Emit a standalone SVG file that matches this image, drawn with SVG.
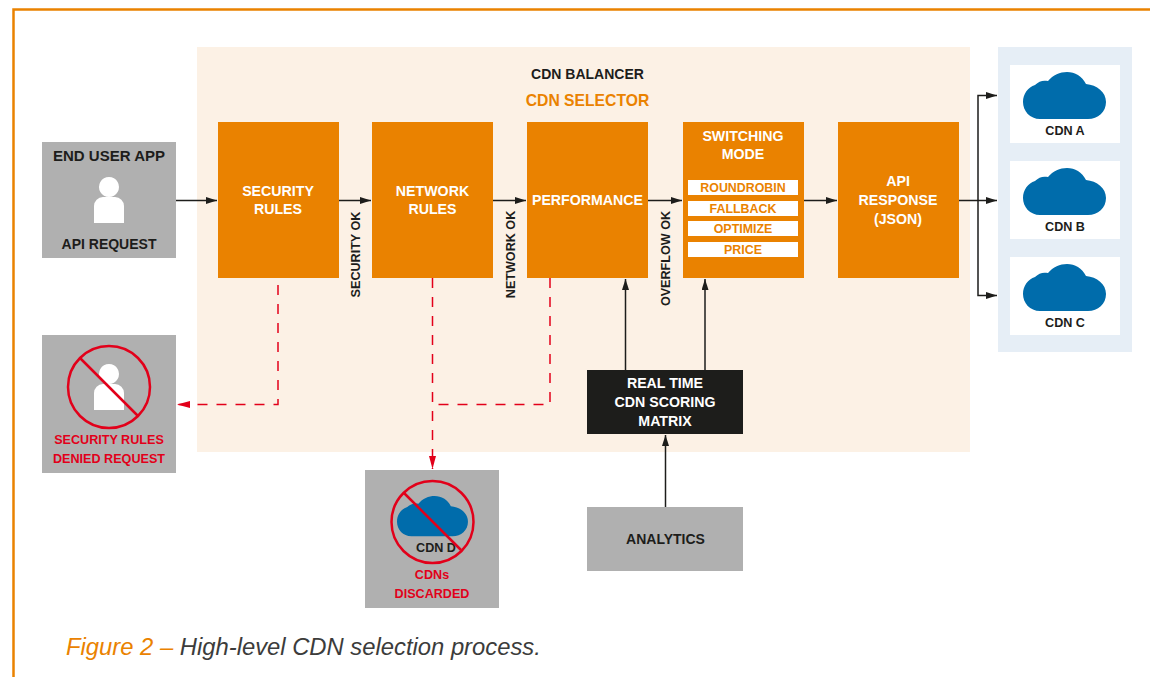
<svg xmlns="http://www.w3.org/2000/svg" width="1150" height="677" viewBox="0 0 1150 677">
<style>
text{font-family:"Liberation Sans",Arial,sans-serif;font-weight:700;text-anchor:middle}
.k{fill:#1d1d1b;font-size:14px}
.s{fill:#1d1d1b;font-size:12.600px}
.w{fill:#fff;font-size:14.200px}
.r{fill:#e2001a;font-size:12.600px}
.o{fill:#ea8200}
.g{fill:#b0b0b0}
.pt{fill:#ea8200;font-size:12.400px}
.l{fill:none;stroke:#1d1d1b;stroke-width:1.5}
.d{fill:none;stroke:#e2001a;stroke-width:1.5;stroke-dasharray:10 9}
.no{fill:none;stroke:#e2001a;stroke-width:2.5}
</style>
<defs>
<marker id="a" markerUnits="userSpaceOnUse" markerWidth="12" markerHeight="8" refX="11" refY="3.5" orient="auto"><path d="M0 0L11 3.5L0 7z" fill="#1d1d1b"/></marker>
<marker id="b" markerUnits="userSpaceOnUse" markerWidth="14" markerHeight="8" refX="13" refY="3.5" orient="auto"><path d="M0 0L13 3.5L0 7z" fill="#e2001a"/></marker>
<path id="cloud" d="M17 47C7 47 0 39 0 30C0 22 5 15 12 13C16 9 20 8 25 9C30 3 37 0 44 0C52 0 59 4 63 12C74 13 83 20 83 30C83 40 75 47 65 47z" fill="#006cab"/>
<path id="user" d="M12 0a10 10 0 1 1-.01 0zM6 20h12a9 9 0 0 1 9 9v17H-3V29a9 9 0 0 1 9-9z" fill="#fff"/>
</defs>
<g id="frame"><path d="M13.500 677V9.500H1150" fill="none" stroke="#ea8200" stroke-width="2.500"/></g>
<g id="balancer"><rect x="197" y="47" width="773" height="405" fill="#fcf1e5"/>
<text class="s" x="587.500" y="79" style="font-size:14px">CDN BALANCER</text>
<text class="pt" x="587.500" y="106" style="font-size:15.700px">CDN SELECTOR</text></g>
<g id="connectors">
<path class="l" d="M176 200.500H217" marker-end="url(#a)"/>
<path class="l" d="M339 200.500H371" marker-end="url(#a)"/>
<path class="l" d="M493 200.500H526" marker-end="url(#a)"/>
<path class="l" d="M648 200.500H682" marker-end="url(#a)"/>
<path class="l" d="M804 200.500H837" marker-end="url(#a)"/>
<path class="l" d="M959 200.500H997" marker-end="url(#a)"/>
<path class="l" d="M978 200.500V95.500H997" marker-end="url(#a)"/>
<path class="l" d="M978 200.500V295.500H997" marker-end="url(#a)"/>
<path class="l" d="M625.500 370V279" marker-end="url(#a)"/>
<path class="l" d="M705 370V279" marker-end="url(#a)"/>
<path class="l" d="M665.500 507V435" marker-end="url(#a)"/>
<path class="d" d="M278 285V404.500H177" marker-end="url(#b)"/>
<path class="d" d="M432.500 278V469" marker-end="url(#b)"/>
<path class="d" d="M550 278V404.500H432.500"/>
</g>
<g id="end-user"><rect class="g" x="42" y="142" width="134" height="116"/>
<text class="k" x="109" y="161" style="font-size:15px">END USER APP</text>
<use href="#user" x="97" y="177"/>
<text class="k" x="109" y="249">API REQUEST</text></g>
<g id="security-rules"><rect class="o" x="218" y="122" width="121" height="156"/>
<text class="w" x="278" y="196">SECURITY</text><text class="w" x="278" y="214">RULES</text></g>
<g id="network-rules"><rect class="o" x="372" y="122" width="121" height="156"/>
<text class="w" x="432.500" y="196">NETWORK</text><text class="w" x="432.500" y="214">RULES</text></g>
<g id="performance"><rect class="o" x="527" y="122" width="121" height="156"/>
<text class="w" x="587.500" y="205">PERFORMANCE</text></g>
<g id="switching-mode"><rect class="o" x="683" y="122" width="121" height="156"/>
<text class="w" x="743" y="141">SWITCHING</text><text class="w" x="743" y="159">MODE</text>
<rect x="688" y="180" width="110" height="15" fill="#fff"/><text class="pt" x="743" y="192">ROUNDROBIN</text>
<rect x="688" y="201" width="110" height="15" fill="#fff"/><text class="pt" x="743" y="213">FALLBACK</text>
<rect x="688" y="221" width="110" height="15" fill="#fff"/><text class="pt" x="743" y="233">OPTIMIZE</text>
<rect x="688" y="242" width="110" height="15" fill="#fff"/><text class="pt" x="743" y="254">PRICE</text></g>
<g id="api-response"><rect class="o" x="838" y="122" width="121" height="156"/>
<text class="w" x="898" y="186">API</text><text class="w" x="898" y="205">RESPONSE</text><text class="w" x="898" y="224">(JSON)</text></g>
<g id="edge-labels">
<text class="s" transform="translate(360 254.500) rotate(-90)">SECURITY OK</text>
<text class="s" transform="translate(515 254.500) rotate(-90)">NETWORK OK</text>
<text class="s" transform="translate(669.500 258.500) rotate(-90)">OVERFLOW OK</text>
</g>
<g id="denied"><rect class="g" x="42" y="335" width="134" height="138"/>
<use href="#user" x="97" y="364"/>
<circle class="no" cx="109" cy="387" r="41"/><path class="no" d="M80 358L138 416"/>
<text class="r" x="109" y="444">SECURITY RULES</text><text class="r" x="109" y="463">DENIED REQUEST</text></g>
<g id="discarded"><rect class="g" x="365" y="470" width="134" height="138"/>
<use href="#cloud" transform="translate(397 496) scale(.855 .855)"/>
<text class="s" x="436" y="552">CDN D</text>
<circle class="no" cx="432.500" cy="522" r="41"/><path class="no" d="M404 493L461 550"/>
<text class="r" x="432" y="579">CDNs</text><text class="r" x="432" y="598">DISCARDED</text></g>
<g id="scoring-matrix"><rect x="587" y="370" width="156" height="64" fill="#1d1d1b"/>
<text class="w" x="665" y="388">REAL TIME</text><text class="w" x="665" y="407">CDN SCORING</text><text class="w" x="665" y="426">MATRIX</text></g>
<g id="analytics"><rect class="g" x="587" y="507" width="156" height="64"/>
<text class="k" x="665.500" y="544">ANALYTICS</text></g>
<g id="cdn-panel"><rect x="998" y="47" width="134" height="305" fill="#e6eef6"/></g>
<g id="cdn-a"><rect x="1010" y="65" width="110" height="78" fill="#fff"/><use href="#cloud" x="1023" y="72"/><text class="s" x="1065" y="135">CDN A</text></g>
<g id="cdn-b"><rect x="1010" y="161" width="110" height="78" fill="#fff"/><use href="#cloud" x="1023" y="168"/><text class="s" x="1065" y="231">CDN B</text></g>
<g id="cdn-c"><rect x="1010" y="257" width="110" height="78" fill="#fff"/><use href="#cloud" x="1023" y="264"/><text class="s" x="1065" y="327">CDN C</text></g>
<g id="caption"><text x="66" y="655" style="font-size:23.800px;font-weight:400;font-style:italic;text-anchor:start" fill="#3c3c3b"><tspan fill="#ea8200">Figure 2 – </tspan>High-level CDN selection process.</text></g>
</svg>
